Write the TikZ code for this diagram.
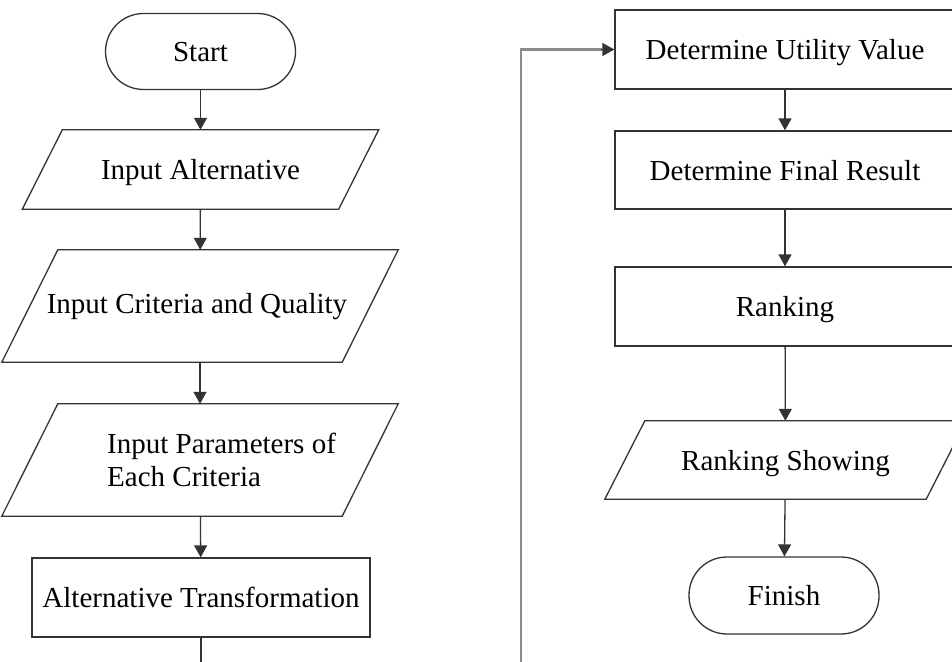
\documentclass[tikz,border=0pt]{standalone}
\usepackage{fontspec}
\setmainfont{Liberation Serif}
\usetikzlibrary{arrows.meta,calc}
\begin{document}
\begin{tikzpicture}[x=1pt,y=1pt,
  shp/.style={draw=black!80, line width=1.3pt},
  lbl/.style={font=\fontsize{29}{33}\selectfont, text height=24pt, text depth=4pt, inner sep=0pt},
  frame/.style={lbl, minimum width=#1, draw=none},
  boxnode/.style={shp, lbl, minimum height=79pt},
  term/.style={shp, lbl, minimum height=76pt, minimum width=190pt, rounded corners=38pt},
  arr/.style={draw=black!80, line width=1.3pt, -{Triangle[length=12pt,width=13pt]}},
  loopline/.style={draw=black!45, line width=2.4pt}
]
\useasboundingbox (0,0) rectangle (952,-661);
\clip (0,0) rectangle (952,-661);

% left column
\node[term] (start) at (200.5,-51.5) {Start};
\node[frame=316pt, minimum height=79pt] (ia) at (200.5,-169.5) {Input Alternative};
\draw[shp] ([xshift=20pt]ia.north west) -- ([xshift=20pt]ia.north east) -- ([xshift=-20pt]ia.south east) -- ([xshift=-20pt]ia.south west) -- cycle;

\node[frame=340pt, minimum height=112pt] (ic) at (200,-306) {};
\node[lbl] (ictxt) at (197,-303) {Input Criteria and Quality};
\draw[shp] ([xshift=28pt]ic.north west) -- ([xshift=28pt]ic.north east) -- ([xshift=-28pt]ic.south east) -- ([xshift=-28pt]ic.south west) -- cycle;

\node[frame=340pt, minimum height=112pt] (ip) at (200,-460) {};
\node[lbl, align=left, anchor=west, text height=, text depth=] (iptxt) at (107,-460) {Input Parameters of\\Each Criteria};
\draw[shp] ([xshift=28pt]ip.north west) -- ([xshift=28pt]ip.north east) -- ([xshift=-28pt]ip.south east) -- ([xshift=-28pt]ip.south west) -- cycle;

\node[boxnode, minimum width=338pt] (at) at (201,-597.5) {Alternative Transformation};
\coordinate (atout) at (201,-670);

\draw[arr] (start) -- (ia);
\draw[arr] (ia) -- (ic);
\draw[arr] (ic) -- (ip);
\draw[arr] (ip) -- (at);
\draw[shp] (at) -- (atout);

% right column
\node[boxnode, minimum width=340pt] (du) at (785,-49.5) {Determine Utility Value};
\node[boxnode, minimum width=340pt, minimum height=78pt] (df) at (785,-170) {Determine Final Result};
\node[boxnode, minimum width=340pt] (rk) at (785,-306.5) {Ranking};
\node[frame=321pt, minimum height=78pt] (rs) at (785.5,-460) {Ranking Showing};
\draw[shp] ([xshift=20pt]rs.north west) -- ([xshift=20pt]rs.north east) -- ([xshift=-20pt]rs.south east) -- ([xshift=-20pt]rs.south west) -- cycle;
\node[term, minimum height=77pt] (fin) at (784,-595.5) {Finish};

\coordinate (lpbot) at (521,-670);
\coordinate (lptop) at (521,-49.5);
\draw[loopline] (lpbot) -- (lptop) -- ([xshift=-12pt]du.west);
\draw[arr] ([xshift=-13pt]du.west) -- (du.west);

\draw[arr] (du) -- (df);
\draw[arr] (df) -- (rk);
\draw[arr] (rk) -- (rs);
\draw[arr] (rs) -- (fin);
\end{tikzpicture}
\end{document}
